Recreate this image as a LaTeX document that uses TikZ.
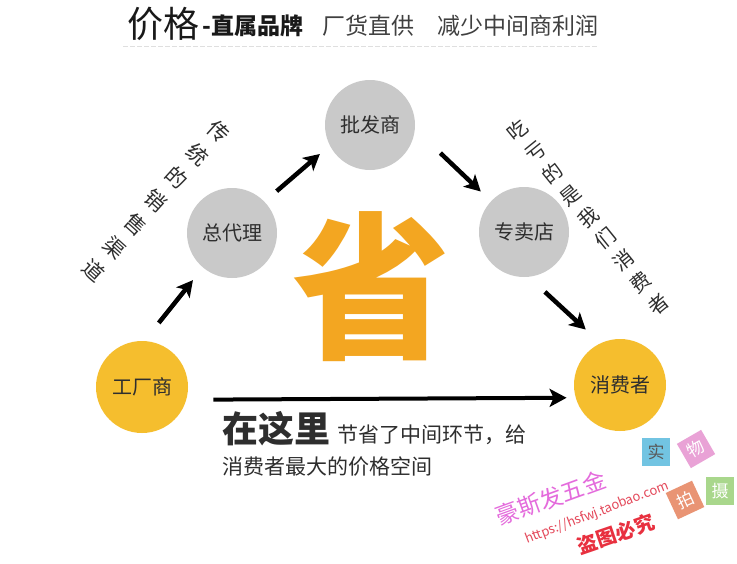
\documentclass[tikz,border=0pt]{standalone}
\usepackage{fontspec}
\setmainfont{Noto Sans CJK SC}
\usetikzlibrary{arrows.meta}
\definecolor{circgray}{HTML}{C9C9C9}
\definecolor{circyel}{HTML}{F5BE2E}
\definecolor{txtdark}{HTML}{2E2E2E}
\definecolor{shengor}{HTML}{F3A621}
\definecolor{wmpink}{HTML}{E46BDC}
\definecolor{wmred}{HTML}{E4485A}
\definecolor{wmredb}{HTML}{E8303F}
\definecolor{sqblue}{HTML}{72C4E2}
\definecolor{sqpink}{HTML}{E9A2D6}
\definecolor{sqsalmon}{HTML}{E99474}
\definecolor{sqgreen}{HTML}{A9D78C}
\begin{document}
\begin{tikzpicture}[x=1pt,y=-1pt,
  stage/.style={circle, minimum size=90pt, inner sep=0pt, text=txtdark, font=\fontsize{20}{24}\selectfont},
  graystage/.style={stage, fill=circgray},
  yelstage/.style={stage, fill=circyel, minimum size=92pt},
  flow/.style={line width=4.5pt, -{Stealth[length=16pt,width=17pt,inset=4pt]}},
  titlebig/.style={anchor=base west, inner sep=0pt, font=\fontsize{36}{40}\selectfont, text=black!90},
  titlesmall/.style={anchor=base west, inner sep=0pt, font=\fontsize{23}{28}\selectfont, text=black!75},
  diagtext/.style={align=center, inner sep=0pt, text=txtdark},
  wmsquare/.style={minimum size=28pt, inner sep=0pt, font=\fontsize{17}{17}\selectfont, text=white}
]
\useasboundingbox[fill=white] (0,0) rectangle (737,563);

% title
\node[titlebig] (t1) at (127,37) {价格};
\node[titlesmall, font=\fontsize{23}{28}\selectfont\bfseries, text=black!90] (t2) at (202,34) {-直属品牌};
\node[titlesmall] (t3) at (322,34) {厂货直供};
\node[titlesmall] (t4) at (437,34) {减少中间商利润};
\coordinate (rulea) at (123,46);
\coordinate (ruleb) at (598,46);
\draw[gray!25, line width=1pt, dash pattern=on 5pt off 2pt] (rulea) -- (ruleb);

% stages
\node[yelstage] (fac) at (142,387) {工厂商};
\node[graystage] (agent) at (232,233) {总代理};
\node[graystage] (ws) at (370,125) {批发商};
\node[graystage] (shop) at (524,232) {专卖店};
\node[yelstage] (cons) at (620,385) {消费者};

% arrows
\draw[flow, shorten <=23pt, shorten >=16pt] (fac.87) -- (agent.230);
\draw[flow, shorten <=16pt, shorten >=13pt] (agent.44) -- (ws.207);
\draw[flow, shorten <=35pt, shorten >=14pt] (ws.-5) -- (shop.137);
\draw[flow, shorten <=22pt, shorten >=20pt] (shop.-84) -- (cons.115);
\draw[line width=4pt, -{Stealth[length=17pt,width=18pt,inset=4pt]}, shorten <=27pt, shorten >=9pt] (fac.-16.5) -- (cons.196.5);

% diagonal labels
\node[diagtext, rotate=-42, font=\fontsize{21}{31}\selectfont] (left) at (156,201) {传\\统\\的\\销\\售\\渠\\道};
\node[diagtext, rotate=39, font=\fontsize{20}{28}\selectfont] (right) at (588,217) {吃\\亏\\的\\是\\我\\们\\消\\费\\者};

% big character
\node[font=\fontsize{158}{158}\selectfont\bfseries, text=shengor] (sheng) at (371,287) {省};

% bottom text
\node[anchor=base west, inner sep=0pt, font=\fontsize{36}{40}\selectfont\bfseries, text=txtdark] (here) at (222,442) {在这里};
\node[anchor=base west, inner sep=0pt, font=\fontsize{21}{24}\selectfont, text=txtdark] (line1) at (337,442) {节省了中间环节，给};
\node[anchor=base west, inner sep=0pt, font=\fontsize{21}{24}\selectfont, text=txtdark] (line2) at (222,474) {消费者最大的价格空间};

% watermark
\node[rotate=20, inner sep=0pt, font=\fontsize{23}{23}\selectfont, text=wmpink] (wm1) at (551,498) {豪斯发五金};
\node[rotate=21, inner sep=0pt, font=\fontsize{13}{13}\selectfont, text=wmred] (wm2) at (597,513) {https://hsfwj.taobao.com};
\node[rotate=19, inner sep=0pt, font=\fontsize{20}{20}\selectfont\bfseries, text=wmredb] (wm3) at (616,534) {盗图必究};
\node[wmsquare, fill=sqblue, text=black!65] (sq1) at (656,452) {实};
\node[wmsquare, fill=sqpink, rotate=30] (sq2) at (696,449) {物};
\node[wmsquare, fill=sqsalmon, rotate=25, minimum size=29pt] (sq3) at (685,500) {拍};
\node[wmsquare, fill=sqgreen] (sq4) at (720,491) {摄};
\end{tikzpicture}
\end{document}
